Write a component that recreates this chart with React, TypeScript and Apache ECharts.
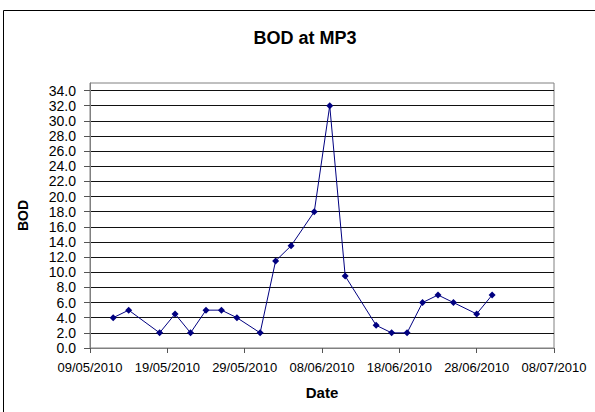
import React, { useEffect, useRef } from "react";
import * as echarts from "echarts";

const dates = [
  "12/05/2010", "14/05/2010", "18/05/2010", "20/05/2010", "22/05/2010",
  "24/05/2010", "26/05/2010", "28/05/2010", "31/05/2010", "02/06/2010",
  "04/06/2010", "07/06/2010", "09/06/2010", "11/06/2010", "15/06/2010",
  "17/06/2010", "19/06/2010", "21/06/2010", "23/06/2010", "25/06/2010",
  "28/06/2010", "30/06/2010",
];
const bod = [4, 5, 2, 4.5, 2, 5, 5, 4, 2, 11.5, 13.5, 18, 32, 9.5, 3, 2, 2, 6, 7, 6, 4.5, 7];

const axisStart = "09/05/2010";
const axisEnd = "08/07/2010";
const xStepDays = 10;
const yMin = 0;
const yMax = 35;
const yStep = 2;

const DAY = 86400000;
const parse = (s: string) => {
  const [d, m, y] = s.split("/").map(Number);
  return Date.UTC(y, m - 1, d);
};
const base = parse(axisStart);
const toOffset = (s: string) => Math.round((parse(s) - base) / DAY);
const fmt = (off: number) => {
  const dt = new Date(base + off * DAY);
  const dd = String(dt.getUTCDate()).padStart(2, "0");
  const mm = String(dt.getUTCMonth() + 1).padStart(2, "0");
  return `${dd}/${mm}/${dt.getUTCFullYear()}`;
};

export default function App() {
  const ref = useRef<HTMLDivElement>(null);
  useEffect(() => {
    if (!ref.current) return;
    const chart = echarts.init(ref.current, undefined, { renderer: "svg" });
    const font = "'Liberation Sans', Arial, sans-serif";
    chart.setOption({
      animation: false,
      backgroundColor: "#ffffff",
      title: {
        text: "BOD at MP3",
        left: 300,
        textAlign: "center",
        top: 24,
        textStyle: { fontFamily: font, fontSize: 18, fontWeight: "bold", color: "#000" },
      },
      graphic: [
        {
          type: "rect",
          shape: { x: 3.5, y: 10.5, width: 700, height: 500 },
          style: { fill: "none", stroke: "#000", lineWidth: 1 },
          silent: true,
        },
      ],
      grid: {
        left: 90,
        right: 41,
        top: 83,
        bottom: 64,
        show: true,
        borderColor: "#808080",
        borderWidth: 1,
        backgroundColor: "#fff",
      },
      xAxis: {
        type: "value",
        min: 0,
        max: toOffset(axisEnd),
        interval: xStepDays,
        name: "Date",
        nameLocation: "middle",
        nameGap: 37,
        nameTextStyle: { fontFamily: font, fontSize: 15, fontWeight: "bold", color: "#000" },
        axisLine: { lineStyle: { color: "#808080", width: 1 } },
        axisTick: { show: true, length: 5, lineStyle: { color: "#555" } },
        axisLabel: {
          margin: 13,
          fontFamily: font,
          fontSize: 13,
          color: "#000",
          formatter: (v: number) => fmt(v),
        },
        splitLine: { show: false },
      },
      yAxis: {
        type: "value",
        min: yMin,
        max: yMax,
        interval: yStep,
        name: "BOD",
        nameLocation: "middle",
        nameGap: 60,
        nameRotate: 90,
        nameTextStyle: { fontFamily: font, fontSize: 14, fontWeight: "bold", color: "#000" },
        axisLine: { show: true, lineStyle: { color: "#808080", width: 1 } },
        axisTick: { show: true, length: 6, lineStyle: { color: "#555" } },
        axisLabel: {
          margin: 14,
          fontFamily: font,
          fontSize: 14,
          lineHeight: 14,
          color: "#000",
          showMaxLabel: false,
          formatter: (v: number) => (v > 34 ? "" : v.toFixed(1)),
        },
        splitLine: {
          show: true,
          showMaxLine: false,
          showMinLine: false,
          lineStyle: { color: "#111", width: 1 },
        },
      },
      series: [
        {
          type: "line",
          data: dates.map((d, i) => [toOffset(d), bod[i]]),
          symbol: "diamond",
          symbolSize: 7,
          showSymbol: true,
          lineStyle: { color: "#000080", width: 1 },
          itemStyle: { color: "#000080" },
        },
      ],
    });
    return () => chart.dispose();
  }, []);
  return (
    <div
      ref={ref}
      style={{ position: "fixed", left: 0, top: 0, width: 595, height: 412 }}
    />
  );
}
